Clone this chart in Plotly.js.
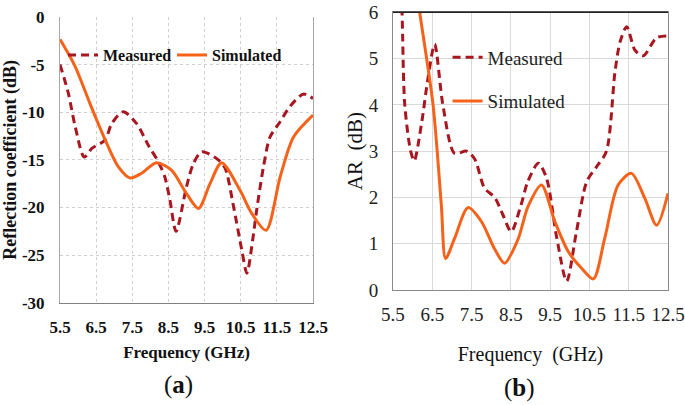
<!DOCTYPE html>
<html>
<head>
<meta charset="utf-8">
<script src="https://cdn.plot.ly/plotly-3.0.1.min.js"></script>
<style>
  body { margin: 0; background: #ffffff; }
  #chart { width: 685px; height: 405px; }
</style>
</head>
<body>
<div id="chart"></div>
<script>
// (a) reflection coefficient, measured vs simulated
var refl_meas_f = [5.5, 5.73, 5.92, 6.17, 6.38, 6.75, 6.93, 7.25, 7.62, 7.94, 8.22, 8.4, 8.54, 8.71, 9.0, 9.19, 9.42, 9.88, 10.07, 10.3, 10.53, 10.67, 10.83, 10.94, 11.13, 11.31, 11.59, 11.86, 12.23, 12.5];
var refl_meas = [-5.0, -8.0, -11.5, -14.7, -13.8, -12.9, -11.2, -9.95, -11.2, -13.45, -15.2, -16.8, -19.2, -22.5, -17.8, -15.4, -14.15, -15.0, -15.9, -19.9, -24.5, -26.9, -23.4, -20.3, -15.7, -12.6, -11.0, -9.4, -8.1, -8.55];

var refl_sim_f = [5.5, 5.92, 6.33, 6.75, 7.11, 7.44, 7.76, 8.17, 8.59, 8.96, 9.33, 9.65, 9.97, 10.48, 10.8, 11.2, 11.59, 11.96, 12.5];
var refl_sim = [-2.35, -5.2, -9.1, -12.9, -15.7, -16.9, -16.4, -15.3, -16.1, -18.3, -20.1, -17.5, -15.3, -18.2, -20.6, -22.4, -16.8, -12.6, -10.3];

// (b) axial ratio, measured vs simulated
var ar_meas_f = [5.65, 5.73, 5.8, 5.95, 6.04, 6.22, 6.39, 6.56, 6.77, 7.07, 7.37, 7.58, 7.83, 8.09, 8.3, 8.51, 8.76, 8.93, 9.2, 9.41, 9.67, 9.92, 10.17, 10.43, 10.68, 10.93, 11.15, 11.28, 11.45, 11.66, 11.87, 12.21, 12.5];
var ar_meas = [7.5, 6.0, 4.0, 3.0, 2.79, 3.56, 4.57, 5.31, 4.0, 2.95, 3.0, 2.83, 2.2, 2.0, 1.62, 1.26, 1.84, 2.34, 2.74, 2.41, 1.12, 0.19, 1.26, 2.34, 2.66, 2.99, 4.71, 5.36, 5.69, 5.18, 5.06, 5.45, 5.49];

var ar_sim_f = [6.0, 6.18, 6.52, 6.73, 6.84, 7.07, 7.41, 7.75, 8.09, 8.34, 8.68, 8.94, 9.28, 9.62, 9.96, 10.3, 10.6, 10.89, 11.23, 11.57, 11.91, 12.21, 12.5];
var ar_sim = [7.1, 6.0, 4.0, 1.84, 0.68, 1.12, 1.78, 1.48, 0.88, 0.58, 1.09, 1.81, 2.27, 1.48, 0.83, 0.47, 0.24, 1.12, 2.27, 2.52, 1.98, 1.40, 2.09];

var refl_ticks = [-30, -25, -20, -15, -10, -5, 0];
var refl_ticktext = ['-30', '-25', '-20', '-15', '-10', '-5', '0'];

var measColor = '#A8161F';
var simColor = '#F5621A';
var serif = 'Liberation Serif, Times New Roman, serif';

var data = [
  {
    x: refl_meas_f, y: refl_meas, type: 'scatter', mode: 'lines',
    name: 'Measured', xaxis: 'x', yaxis: 'y', legend: 'legend',
    line: { color: measColor, width: 3, dash: '8px,5px', shape: 'spline', smoothing: 0.8 }
  },
  {
    x: refl_sim_f, y: refl_sim, type: 'scatter', mode: 'lines',
    name: 'Simulated', xaxis: 'x', yaxis: 'y', legend: 'legend',
    line: { color: simColor, width: 3, shape: 'spline', smoothing: 0.8 }
  },
  {
    x: ar_meas_f, y: ar_meas, type: 'scatter', mode: 'lines',
    name: 'Measured', xaxis: 'x2', yaxis: 'y2', legend: 'legend2', legendgroup: 'm2',
    line: { color: measColor, width: 3, dash: '8px,5px', shape: 'spline', smoothing: 0.8 }
  },
  {
    x: ar_sim_f, y: ar_sim, type: 'scatter', mode: 'lines',
    name: 'Simulated', xaxis: 'x2', yaxis: 'y2', legend: 'legend2', legendgroup: 's2',
    line: { color: simColor, width: 3, shape: 'spline', smoothing: 0.8 }
  }
];

var layout = {
  width: 685,
  height: 405,
  margin: { l: 0, r: 0, t: 0, b: 0 },
  paper_bgcolor: '#ffffff',
  plot_bgcolor: '#ffffff',
  font: { family: serif, size: 17, color: '#111111' },
  xaxis: {
    domain: [0.0876, 0.457],
    anchor: 'y',
    range: [5.5, 12.5],
    tick0: 5.5, dtick: 1,
    showgrid: true, gridcolor: '#cfcfcf', griddash: 'dot',
    showline: true, linecolor: '#808080', linewidth: 1,
    zeroline: false,
    ticks: '', ticklabelstandoff: 9,
    tickfont: { family: serif, size: 17, weight: 'bold', color: '#111111' },
    title: { text: 'Frequency (GHz)', font: { family: serif, size: 17, weight: 'bold' }, standoff: 10 }
  },
  yaxis: {
    domain: [0.2526, 0.958],
    anchor: 'x',
    range: [-30, 0],
    tickvals: refl_ticks, ticktext: refl_ticktext,
    showgrid: true, gridcolor: '#cfcfcf', griddash: 'dot',
    showline: true, mirror: true, linecolor: '#a8a8a8', linewidth: 1,
    zeroline: false,
    ticks: '', ticklabelstandoff: 11,
    tickfont: { family: serif, size: 17, weight: 'bold', color: '#111111' },
    title: { text: 'Reflection coefficient (dB)', font: { family: serif, size: 18, weight: 'bold' }, standoff: 10 }
  },
  xaxis2: {
    domain: [0.5737, 0.9752],
    anchor: 'y2',
    range: [5.5, 12.5],
    tick0: 5.5, dtick: 1,
    showgrid: true, gridcolor: '#d9d9d9',
    showline: true, mirror: true, linecolor: '#8a8a8a', linewidth: 1,
    zeroline: false,
    ticks: '', ticklabelstandoff: 7,
    tickfont: { family: serif, size: 19, color: '#222222' },
    title: { text: 'Frequency  (GHz)', font: { family: serif, size: 20 }, standoff: 23 }
  },
  yaxis2: {
    domain: [0.284, 0.9696],
    anchor: 'x2',
    range: [0, 6],
    dtick: 1,
    showgrid: true, gridcolor: '#d9d9d9',
    showline: true, mirror: true, linecolor: '#8a8a8a', linewidth: 1,
    zeroline: false,
    ticks: '', ticklabelstandoff: 10,
    tickfont: { family: serif, size: 19, color: '#222222' },
    title: { text: 'AR  (dB)', font: { family: serif, size: 21 }, standoff: 0 }
  },
  showlegend: true,
  legend: {
    orientation: 'h',
    x: 0.092, xanchor: 'left',
    y: 0.864, yanchor: 'middle',
    bgcolor: 'rgba(0,0,0,0)',
    font: { family: serif, size: 16, weight: 'bold', color: '#111111' },
    itemwidth: 30,
    entrywidth: 64
  },
  legend2: {
    x: 0.6534, xanchor: 'left',
    y: 0.905, yanchor: 'top',
    bgcolor: 'rgba(0,0,0,0)',
    traceorder: 'grouped',
    tracegroupgap: 16,
    font: { family: serif, size: 19, color: '#222222' },
    itemwidth: 30
  },
  shapes: [
    { type: 'line', xref: 'x2 domain', yref: 'y2 domain', x0: 0, x1: 1, y0: 1, y1: 1,
      line: { color: '#222222', width: 1.5 } }
  ],
  annotations: [
    { text: '(<b>a</b>)', xref: 'paper', yref: 'paper', x: 0.26, y: 0.05,
      xanchor: 'center', yanchor: 'middle', showarrow: false,
      font: { family: serif, size: 25, color: '#111111' } },
    { text: '(<b>b</b>)', xref: 'paper', yref: 'paper', x: 0.759, y: 0.042,
      xanchor: 'center', yanchor: 'middle', showarrow: false,
      font: { family: serif, size: 25, color: '#111111' } }
  ]
};

Plotly.newPlot('chart', data, layout, { displayModeBar: false, staticPlot: true });
</script>
</body>
</html>
